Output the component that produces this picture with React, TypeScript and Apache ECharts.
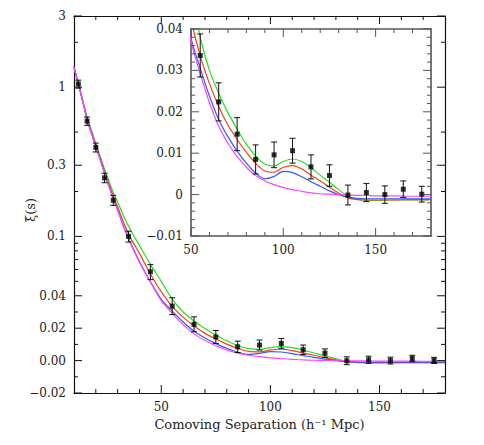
import React, { useEffect, useRef } from 'react';
import * as echarts from 'echarts';

// ---------- data ----------
const S_CURVE = [10, 12, 14, 16, 18, 20, 22, 24, 26, 28, 30, 33, 36, 40, 45, 50, 55, 60, 65, 70, 75, 80, 85, 90, 95, 100, 105, 110, 115, 120, 125, 130, 135, 140, 145, 150, 160, 170, 180];

const XI_GREEN = [1.36, 1.06, 0.82, 0.63, 0.515, 0.42, 0.345, 0.283, 0.235, 0.197, 0.170, 0.134, 0.110, 0.087, 0.065, 0.050, 0.038, 0.030, 0.0245, 0.0198, 0.0158, 0.0122, 0.0093, 0.0074, 0.0069, 0.0080, 0.0086, 0.0080, 0.0065, 0.0047, 0.0030, 0.0012, -0.0004, -0.0011, -0.0014, -0.0014, -0.0013, -0.0013, -0.0012];
const XI_RED = [1.36, 1.055, 0.81, 0.615, 0.50, 0.41, 0.335, 0.272, 0.225, 0.187, 0.158, 0.121, 0.097, 0.077, 0.056, 0.0425, 0.0335, 0.0268, 0.0213, 0.0168, 0.0133, 0.0102, 0.0076, 0.0057, 0.0054, 0.0066, 0.0070, 0.0062, 0.0047, 0.0033, 0.0018, 0.0004, -0.0008, -0.0012, -0.0013, -0.0013, -0.0013, -0.0012, -0.0012];
const XI_BLUE = [1.36, 1.05, 0.80, 0.605, 0.49, 0.40, 0.327, 0.265, 0.217, 0.180, 0.151, 0.114, 0.090, 0.068, 0.0497, 0.0378, 0.0305, 0.0238, 0.0181, 0.0140, 0.0105, 0.0076, 0.0052, 0.0038, 0.0044, 0.0056, 0.0053, 0.0043, 0.0031, 0.0020, 0.0009, 0.0000, -0.0006, -0.0009, -0.0010, -0.0010, -0.0010, -0.0010, -0.0010];
const XI_MAGENTA = [1.36, 1.05, 0.80, 0.605, 0.49, 0.40, 0.326, 0.264, 0.216, 0.179, 0.150, 0.113, 0.089, 0.067, 0.0495, 0.0370, 0.0292, 0.0222, 0.0165, 0.0124, 0.0092, 0.0066, 0.0046, 0.0033, 0.0024, 0.0017, 0.0012, 0.0008, 0.0004, 0.0002, 0.0001, 0.0000, -0.0001, -0.0002, -0.0002, -0.0003, -0.0003, -0.0004, -0.0004];

const S_DATA = [12, 16, 20, 24, 28, 35, 45, 55, 65, 75, 85, 95, 105, 115, 125, 135, 145, 155, 165, 175];
const XI_DATA = [1.05, 0.593, 0.395, 0.247, 0.175, 0.1, 0.058, 0.0336, 0.0224, 0.0146, 0.0085, 0.0096, 0.0106, 0.0067, 0.0046, -0.0001, 0.0005, 0.0, 0.0013, 0.0001];
const XI_ERR = [0.065, 0.038, 0.027, 0.018, 0.0135, 0.0084, 0.0067, 0.0052, 0.0046, 0.004, 0.0035, 0.0031, 0.003, 0.0029, 0.0026, 0.0024, 0.0022, 0.0021, 0.002, 0.0019];

const MAIN_Y_TICKS = [3, 1, 0.3, 0.1, 0.04, 0.02, 0, -0.02];
const MAIN_Y_LABELS = ['3', '1', '0.3', '0.1', '0.04', '0.02', '0.00', '\u22120.02'];
const MAIN_Y_MINOR = [2, 0.5, 0.2, 0.09, 0.08, 0.07, 0.06, 0.05, 0.03, 0.01, -0.01];
const MAIN_X_MAJOR = [50, 100, 150];
const MAIN_X_MINOR = [20, 30, 40, 60, 70, 80, 90, 110, 120, 130, 140, 160, 170];
const INSET_X_MAJOR = [50, 100, 150];
const INSET_X_MINOR = [60, 70, 80, 90, 110, 120, 130, 140, 160, 170];
const INSET_Y_MAJOR = [-0.01, 0, 0.01, 0.02, 0.03, 0.04];
const INSET_Y_LABELS = ['\u22120.01', '0', '0.01', '0.02', '0.03', '0.04'];
const INSET_Y_MINOR = [-0.008, -0.006, -0.004, -0.002, 0.002, 0.004, 0.006, 0.008, 0.012, 0.014, 0.016, 0.018, 0.022, 0.024, 0.026, 0.028, 0.032, 0.034, 0.036, 0.038];

const CURVES = [
  { name: 'green', values: XI_GREEN, color: '#22e022' },
  { name: 'red', values: XI_RED, color: '#ff3c1c' },
  { name: 'blue', values: XI_BLUE, color: '#3358ff' },
  { name: 'magenta', values: XI_MAGENTA, color: '#ff44ff' },
];

// y transform: log above 0.04, linear (matched slope) below
const LN10 = Math.log(10);
const XI_SWITCH = 0.04;
const fwd = (v: number) =>
  v >= XI_SWITCH ? Math.log10(v) : Math.log10(XI_SWITCH) + (v - XI_SWITCH) / (XI_SWITCH * LN10);

const FONT = 'DejaVu Serif';
const TXT = '#222';

function mkAxis(gridIndex: number, position: string, min: number, max: number,
  labels: null | { values: number[]; fmt: (v: number) => string },
  lineColor: string, lineWidth: number, extra: any = {}) {
  return {
    type: 'value', gridIndex, position, min, max,
    axisLine: { show: true, onZero: false, lineStyle: { color: lineColor, width: lineWidth } },
    axisTick: { show: false },
    axisLabel: labels
      ? { show: true, customValues: labels.values, formatter: labels.fmt, fontFamily: FONT, fontSize: 12, color: TXT, margin: 8 }
      : { show: false },
    splitLine: { show: false },
    ...extra,
  };
}

// tick rows placed at interior coordinates: [x, y, length, kind(0 = y tick, 1 = x tick)]
function tickRows(xMid: number, yMid: number, xMaj: number[], xMinor: number[], yMaj: number[], yMinor: number[]) {
  const rows: number[][] = [];
  yMaj.forEach((v) => rows.push([xMid, v, 8, 0]));
  yMinor.forEach((v) => rows.push([xMid, v, 4, 0]));
  xMaj.forEach((v) => rows.push([v, yMid, 8, 1]));
  xMinor.forEach((v) => rows.push([v, yMid, 4, 1]));
  return rows;
}

export default function App() {
  const ref = useRef<HTMLDivElement>(null);
  useEffect(() => {
    if (!ref.current) return;
    const chart = echarts.init(ref.current, undefined, { renderer: 'svg' });

    const mainYTickVals = MAIN_Y_TICKS.map(fwd);
    const mainYFmt = (v: number) => {
      let best = 0, bd = Infinity;
      mainYTickVals.forEach((t, i) => { const d = Math.abs(t - v); if (d < bd) { bd = d; best = i; } });
      return MAIN_Y_LABELS[best];
    };
    const insetYFmt = (v: number) => {
      let best = 0, bd = Infinity;
      INSET_Y_MAJOR.forEach((t, i) => { const d = Math.abs(t - v); if (d < bd) { bd = d; best = i; } });
      return INSET_Y_LABELS[best];
    };
    const yMin = fwd(-0.02), yMax = fwd(3);

    const xAxis = [
      mkAxis(0, 'bottom', 10, 180, { values: MAIN_X_MAJOR, fmt: (v) => String(v) }, '#111', 1.2, {
        name: 'Comoving Separation (h\u207B\u00B9 Mpc)', nameLocation: 'middle', nameGap: 25,
        nameTextStyle: { fontFamily: FONT, fontSize: 13, color: TXT },
      }),
      mkAxis(0, 'top', 10, 180, null, '#111', 1.2),
      mkAxis(1, 'bottom', 50, 180, { values: INSET_X_MAJOR, fmt: (v) => String(v) }, '#555', 1.6),
      mkAxis(1, 'top', 50, 180, null, '#555', 1.6),
    ];
    const yAxis = [
      mkAxis(0, 'left', yMin, yMax, { values: mainYTickVals, fmt: mainYFmt }, '#111', 1.2),
      mkAxis(0, 'right', yMin, yMax, null, '#111', 1.2),
      mkAxis(1, 'left', -0.01, 0.04, { values: INSET_Y_MAJOR, fmt: insetYFmt }, '#555', 1.6),
      mkAxis(1, 'right', -0.01, 0.04, null, '#555', 1.6),
    ];

    const tickCustom = (axisIdx: number, rows: number[][], color: string) => ({
      type: 'custom', xAxisIndex: axisIdx, yAxisIndex: axisIdx, clip: false, z: 5,
      encode: { x: 0, y: 1 },
      data: rows,
      renderItem: (params: any, api: any) => {
        const cs = params.coordSys;
        const p = api.coord([api.value(0), api.value(1)]);
        const len = api.value(2);
        const kind = api.value(3);
        const st = { stroke: color, lineWidth: 1 };
        if (kind === 0) {
          return {
            type: 'group', children: [
              { type: 'line', shape: { x1: cs.x, y1: p[1], x2: cs.x + len, y2: p[1] }, style: st },
              { type: 'line', shape: { x1: cs.x + cs.width, y1: p[1], x2: cs.x + cs.width - len, y2: p[1] }, style: st },
            ],
          };
        }
        return {
          type: 'group', children: [
            { type: 'line', shape: { x1: p[0], y1: cs.y + cs.height, x2: p[0], y2: cs.y + cs.height - len }, style: st },
            { type: 'line', shape: { x1: p[0], y1: cs.y, x2: p[0], y2: cs.y + len }, style: st },
          ],
        };
      },
    });

    const series: any[] = [];
    const addPlot = (axisIdx: number, tf: (v: number) => number) => {
      CURVES.forEach((c) => {
        series.push({
          type: 'line', name: c.name, xAxisIndex: axisIdx, yAxisIndex: axisIdx,
          data: S_CURVE.map((s, i) => [s, tf(c.values[i])]),
          showSymbol: false, smooth: 0.3, clip: true,
          lineStyle: { color: c.color, width: 1.2 }, z: 2,
        });
      });
      series.push({
        type: 'custom', xAxisIndex: axisIdx, yAxisIndex: axisIdx, clip: true, z: 3,
        encode: { x: 0, y: 1 },
        data: S_DATA.map((s, i) => [s, tf(XI_DATA[i]), tf(XI_DATA[i] - XI_ERR[i]), tf(XI_DATA[i] + XI_ERR[i])]),
        renderItem: (params: any, api: any) => {
          const x = api.value(0);
          const pLo = api.coord([x, api.value(2)]);
          const pHi = api.coord([x, api.value(3)]);
          const cap = 3;
          const style = { stroke: '#111', lineWidth: 1 };
          return {
            type: 'group', children: [
              { type: 'line', shape: { x1: pLo[0], y1: pLo[1], x2: pHi[0], y2: pHi[1] }, style },
              { type: 'line', shape: { x1: pLo[0] - cap, y1: pLo[1], x2: pLo[0] + cap, y2: pLo[1] }, style },
              { type: 'line', shape: { x1: pHi[0] - cap, y1: pHi[1], x2: pHi[0] + cap, y2: pHi[1] }, style },
            ],
          };
        },
      });
      series.push({
        type: 'scatter', xAxisIndex: axisIdx, yAxisIndex: axisIdx, z: 4,
        symbol: 'rect', symbolSize: 5, itemStyle: { color: '#000' },
        data: S_DATA.map((s, i) => [s, tf(XI_DATA[i])]),
      });
    };
    addPlot(0, fwd);
    addPlot(2, (v) => v);
    series.push(tickCustom(0, tickRows(95, fwd(0.1), MAIN_X_MAJOR, MAIN_X_MINOR, mainYTickVals, MAIN_Y_MINOR.map(fwd)), '#111'));
    series.push(tickCustom(2, tickRows(115, 0.015, INSET_X_MAJOR, INSET_X_MINOR, INSET_Y_MAJOR, INSET_Y_MINOR), '#555'));

    const yLabel = {
      type: 'text', x: 30, y: 210, rotation: Math.PI / 2,
      style: {
        text: '\u03BE(s)', fontFamily: FONT, fontSize: 13, fill: TXT,
        textAlign: 'center', textVerticalAlign: 'middle', align: 'center', verticalAlign: 'middle',
      },
    };

    chart.setOption({
      animation: false,
      backgroundColor: '#fff',
      grid: [
        { left: 74, top: 16, width: 371, height: 377, containLabel: false, outerBoundsMode: 'none' },
        { left: 191, top: 29, width: 240, height: 207, containLabel: false, outerBoundsMode: 'none', show: true, backgroundColor: '#fff', borderWidth: 0 },
      ],
      graphic: { elements: [yLabel] },
      xAxis, yAxis, series,
    });

    return () => chart.dispose();
  }, []);
  return <div ref={ref} style={{ position: 'fixed', left: 0, top: 0, width: 484, height: 445, background: '#fff' }} />;
}
